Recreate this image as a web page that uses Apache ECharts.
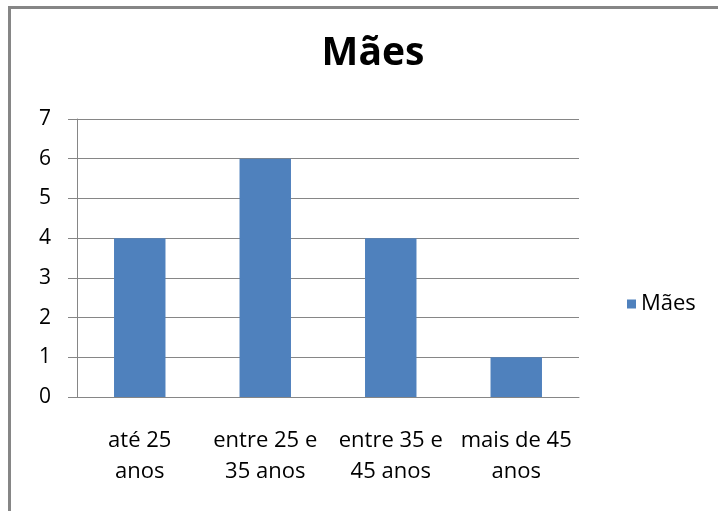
<!DOCTYPE html>
<html><head><meta charset="utf-8">
<script src="https://cdn.jsdelivr.net/npm/echarts@6/dist/echarts.min.js"></script>
<style>html,body{margin:0;padding:0;background:#fff}#c{width:718px;height:511px}</style>
</head><body><div id="c"></div>
<script>
const categories = ['até 25\nanos', 'entre 25 e\n35 anos', 'entre 35 e\n45 anos', 'mais de 45\nanos'];
const values = [4, 6, 4, 1];
const seriesName = 'Mães';
const titleText = 'Mães';
const font = '"Open Sans", Lato, sans-serif';
const chart = echarts.init(document.getElementById('c'));
chart.setOption({
  animation: false,
  backgroundColor: '#fff',
  graphic: [{
    type: 'rect', shape: {x: 9.5, y: 7.5, width: 800, height: 600},
    style: {fill: 'none', stroke: '#868686', lineWidth: 3}, silent: true
  }],
  title: {
    text: titleText, left: 368, top: 29, textAlign: 'center',
    textStyle: {fontFamily: font, fontWeight: 'bold', fontSize: 39, color: '#000'}
  },
  legend: {
    data: [seriesName], left: 622, top: 288, itemWidth: 9, itemHeight: 9, itemGap: 7,
    icon: 'rect',
    textStyle: {fontFamily: font, fontSize: 22, color: '#000'}
  },
  grid: {left: 77, right: 139, top: 119, bottom: 114},
  xAxis: {
    type: 'category', data: categories,
    axisLine: {lineStyle: {color: '#868686', width: 1}},
    axisTick: {length: 7, lineStyle: {color: '#868686'}},
    axisLabel: {fontFamily: font, fontSize: 22, color: '#000', margin: 28, lineHeight: 31, interval: 0}
  },
  yAxis: {
    type: 'value', min: 0, max: 7, interval: 1,
    axisLine: {show: true, lineStyle: {color: '#868686'}},
    axisTick: {show: true, length: 9, lineStyle: {color: '#868686'}},
    splitLine: {lineStyle: {color: '#868686', width: 1}},
    axisLabel: {fontFamily: font, fontSize: 21, color: '#000', margin: 26}
  },
  series: [{
    name: seriesName, type: 'bar', data: values, barWidth: '41%',
    itemStyle: {color: '#4F81BD'}
  }]
});
</script></body></html>
